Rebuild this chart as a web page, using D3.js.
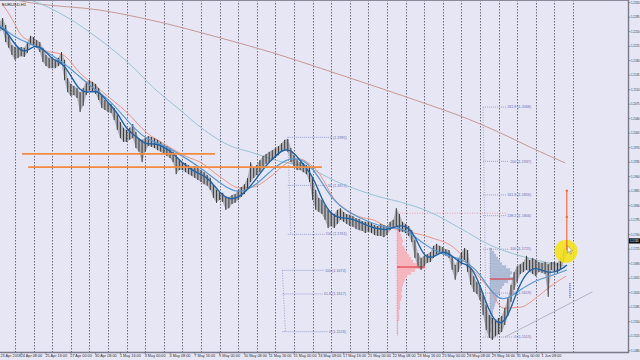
<!DOCTYPE html>
<html><head><meta charset="utf-8">
<script src="https://cdn.jsdelivr.net/npm/d3@7"></script>
<style>html,body{margin:0;padding:0;background:#e6e6f5;overflow:hidden}</style>
</head><body><svg id="c" width="640" height="360"></svg>
<script>
// ---------------- DATA ----------------
const symbolTitle = "EURUSD,H1";
const barStartHour = -20, barStepHours = 4;   // hours since 24 Apr 00:00 (trading hours)
const barHigh = [
 1.2273,1.2283,1.2266,1.2242,1.2218,
 1.2213,1.2211,1.2213,1.2211,1.2225,1.2240,
 1.2237,1.2230,1.2225,1.2211,1.2194,1.2187,
 1.2187,1.2182,1.2187,1.2201,1.2182,1.2138,
 1.2124,1.2119,1.2114,1.2104,1.2114,1.2129,
 1.2133,1.2129,1.2124,1.2114,1.2095,1.2085,
 1.2080,1.2075,1.2066,1.2049,1.2032,1.2018,
 1.2013,1.2018,1.2027,1.2008,1.1993,1.1989,
 1.1993,1.1998,1.1996,1.1993,1.1989,1.1984,
 1.1977,1.1974,1.1969,1.1960,1.1952,1.1940,
 1.1935,1.1933,1.1928,1.1923,1.1926,1.1921,
 1.1916,1.1911,1.1904,1.1897,1.1880,1.1868,
 1.1863,1.1861,1.1853,1.1851,1.1856,1.1858,
 1.1868,1.1875,1.1882,1.1897,1.1935,1.1921,
 1.1928,1.1940,1.1950,1.1955,1.1960,1.1964,
 1.1969,1.1974,1.1981,1.1989,1.1991,1.1969,
 1.1952,1.1940,1.1935,1.1933,1.1928,1.1921,
 1.1897,1.1868,1.1849,1.1844,1.1832,1.1820,
 1.1815,1.1810,1.1820,1.1824,1.1815,1.1810,
 1.1808,1.1805,1.1800,1.1798,1.1793,1.1791,
 1.1791,1.1788,1.1783,1.1781,1.1786,1.1783,
 1.1781,1.1791,1.1796,1.1824,1.1810,1.1791,
 1.1786,1.1781,1.1771,1.1747,1.1716,1.1704,
 1.1709,1.1713,1.1718,1.1733,1.1738,1.1733,
 1.1730,1.1725,1.1723,1.1709,1.1687,1.1704,
 1.1718,1.1728,1.1723,1.1680,1.1660,1.1646,
 1.1636,1.1614,1.1590,1.1566,1.1559,1.1554,
 1.1559,1.1564,1.1583,1.1607,1.1639,1.1670,
 1.1684,1.1689,1.1694,1.1709,1.1699,1.1704,
 1.1699,1.1694,1.1692,1.1694,1.1689,1.1694,
 1.1694,1.1692,1.1704,1.1723,1.1747];
const barLow = [
 1.2249,1.2254,1.2225,1.2211,1.2194,
 1.2182,1.2187,1.2191,1.2189,1.2199,1.2218,
 1.2216,1.2211,1.2201,1.2177,1.2167,1.2162,
 1.2162,1.2162,1.2167,1.2172,1.2133,1.2104,
 1.2095,1.2097,1.2090,1.2056,1.2071,1.2097,
 1.2109,1.2104,1.2100,1.2085,1.2066,1.2061,
 1.2056,1.2054,1.2037,1.2013,1.1993,1.1984,
 1.1984,1.1989,1.1993,1.1969,1.1960,1.1935,
 1.1960,1.1974,1.1972,1.1969,1.1964,1.1960,
 1.1955,1.1950,1.1945,1.1935,1.1906,1.1916,
 1.1916,1.1911,1.1906,1.1902,1.1897,1.1892,
 1.1887,1.1882,1.1878,1.1868,1.1849,1.1837,
 1.1844,1.1839,1.1820,1.1824,1.1834,1.1837,
 1.1844,1.1851,1.1858,1.1868,1.1887,1.1897,
 1.1904,1.1911,1.1921,1.1931,1.1935,1.1940,
 1.1945,1.1952,1.1960,1.1964,1.1960,1.1935,
 1.1926,1.1916,1.1916,1.1911,1.1906,1.1887,
 1.1844,1.1820,1.1815,1.1810,1.1796,1.1776,
 1.1781,1.1776,1.1786,1.1796,1.1791,1.1786,
 1.1781,1.1779,1.1774,1.1771,1.1769,1.1764,
 1.1767,1.1764,1.1759,1.1757,1.1757,1.1754,
 1.1759,1.1771,1.1776,1.1781,1.1767,1.1767,
 1.1764,1.1757,1.1742,1.1704,1.1684,1.1675,
 1.1684,1.1692,1.1694,1.1704,1.1713,1.1716,
 1.1713,1.1709,1.1704,1.1675,1.1651,1.1670,
 1.1689,1.1699,1.1670,1.1639,1.1622,1.1617,
 1.1602,1.1566,1.1530,1.1511,1.1506,1.1515,
 1.1520,1.1525,1.1542,1.1564,1.1598,1.1627,
 1.1646,1.1665,1.1670,1.1675,1.1670,1.1665,
 1.1660,1.1670,1.1668,1.1665,1.1610,1.1675,
 1.1670,1.1668,1.1675,1.1694,1.1713];

// moving averages (hour, price)
const ma1Hours = [-20,-12,0,12,24,36,48,60,72,84,96,108,120,132,144,156,168,180,192,204,216,228,240,252,264,276,288,300,312,324,336,348,360,372,384,396,408,420,432,444,456,468,480,492,504,516,528,540,552,564,576,588,600,612,624,636,648,660,672,684,696,708,712];
const ma1Values = [1.2261,1.2254,1.2218,1.2196,1.2218,1.2211,1.2182,1.2177,1.2145,1.2104,1.2104,1.2109,1.2078,1.2056,1.2013,1.1998,1.1977,1.1981,1.1972,1.1957,1.1933,1.1916,1.1906,1.1892,1.1861,1.1844,1.1849,1.1868,1.1897,1.1928,1.1950,1.1969,1.1960,1.1928,1.1904,1.1844,1.1808,1.1800,1.1800,1.1791,1.1781,1.1774,1.1771,1.1781,1.1783,1.1759,1.1704,1.1704,1.1723,1.1709,1.1689,1.1687,1.1639,1.1573,1.1539,1.1559,1.1627,1.1670,1.1682,1.1670,1.1668,1.1680,1.1687];
const ma2Hours = [-20,0,24,48,72,96,120,144,168,192,216,240,264,288,312,336,360,384,408,432,456,480,504,528,552,576,600,624,648,672,696,712];
const ma2Values = [1.2266,1.2235,1.2218,1.2194,1.2162,1.2119,1.2090,1.2037,1.1989,1.1977,1.1950,1.1921,1.1885,1.1856,1.1880,1.1926,1.1952,1.1928,1.1844,1.1812,1.1791,1.1776,1.1776,1.1735,1.1711,1.1704,1.1670,1.1590,1.1622,1.1651,1.1663,1.1675];
const ma3Hours = [-17,-3,6,23,36,62,84,110,145,170,191,222,239,265,290,307,329,351,368,377,394,410,428,445,462,480,497,535,570,591,613,630,652,674,690,711];
const ma3Values = [1.2319,1.2278,1.2247,1.2223,1.2206,1.2194,1.2150,1.2109,1.2054,1.2006,1.1981,1.1948,1.1935,1.1899,1.1873,1.1875,1.1899,1.1933,1.1943,1.1935,1.1904,1.1851,1.1820,1.1803,1.1796,1.1779,1.1771,1.1754,1.1723,1.1675,1.1627,1.1583,1.1585,1.1610,1.1634,1.1660];
const ma4Hours = [0,19,67,110,152,178,213,239,281,303,351,368,419,471,497,535,574,613,652,684,711];
const ma4Values = [1.2336,1.2327,1.2285,1.2230,1.2165,1.2116,1.2061,1.2020,1.1972,1.1960,1.1933,1.1928,1.1885,1.1851,1.1839,1.1815,1.1776,1.1735,1.1709,1.1694,1.1684];
const ma5Hours = [-6,23,110,187,261,333,394,471,535,574,626,664,710];
const ma5Values = [1.2329,1.2319,1.2302,1.2273,1.2237,1.2199,1.2162,1.2114,1.2073,1.2047,1.2006,1.1972,1.1933];

// axis
const priceTicks = [1.2320,1.2285,1.2250,1.2215,1.2180,1.2145,1.2110,1.2075,1.2040,1.2005,1.1970,1.1935,1.1900,1.1865,1.1830,1.1795,1.1760,1.1725,1.1690,1.1655,1.1620,1.1585,1.1550,1.1515,1.1480];
const dateLabels = ["23 Apr 2018","24 Apr 08:00","25 Apr 16:00","27 Apr 00:00","30 Apr 08:00","1 May 16:00","3 May 00:00","4 May 08:00","7 May 16:00","9 May 00:00","10 May 08:00","11 May 16:00","15 May 00:00","16 May 08:00","17 May 16:00","21 May 00:00","22 May 08:00","23 May 16:00","25 May 00:00","28 May 08:00","29 May 16:00","31 May 00:00","1 Jun 08:00"];
const dateLabelHours = [-24,8,40,72,104,136,168,200,232,264,296,328,360,392,424,456,488,520,552,584,616,648,680];
const daySeparatorHours = [0,24,48,72,96,120,144,168,192,216,240,264,288,312,336,360,384,408,432,456,480,504,528,552,576,600,624,648,672,696,720];
const bidPrice = 1.1745;

// horizontal levels [startHour, endHour, price]
const hLevelStart = [9, 17];
const hLevelEnd = [258, 396];
const hLevelPrice = [1.1955, 1.1923];

// fibonacci objects
const fib1Levels = ["0","50","100"], fib1Prices = [1.1995,1.1879,1.1761], fib1Span = [352, 428];
const fib2Levels = ["100","61.8","0"], fib2Prices = [1.1674,1.1617,1.1526], fib2Span = [345, 427];
const fib3Levels = ["261.8","200","161.8","138.2","100","50","0"], fib3Prices = [1.2068,1.1937,1.1856,1.1806,1.1725,1.1619,1.1513], fib3Span = [604, 666];

// volume profiles
const vp1Top = 1.1783, vp1Bin = 0.0007, vp1Hour = 493;
const vp1Volumes = [1,2,3,4,5,6,5,7,8,10,12,14,16,20,28,18,14,10,8,7,6,5,5,4,5,4,3,3,3,2,2,2,2,1,1,1,1,1];
const vp1Poc = 1.1682, vp1PocEnd = 529;
const vp2Top = 1.1728, vp2Bin = 0.0007, vp2Hour = 613;
const vp2Volumes = [2,4,6,8,10,12,16,20,22,20,24,18,14,12,10,9,8,7,6,5,4,3,3,2,2,2,1,1,1];
const vp2Poc = 1.1653, vp2PocEnd = 643;

// ---------------- DRAW ----------------
const svg = d3.select("#c");
const plotR = 628, plotB = 352;
const FONT = "Liberation Sans, Arial, sans-serif";
const x = d3.scaleLinear().domain([0, 720]).range([15, 573]);
const y = d3.scaleLinear().domain([1.2320, 1.1480]).range([2.7, 350.7]);
const volW = d3.scaleLinear().domain([0, 28]).range([0, 28]);

svg.append("rect").attr("width",640).attr("height",360).attr("fill","#e6e6f5");
svg.append("defs").append("clipPath").attr("id","clip").append("rect").attr("width",plotR).attr("height",plotB);
const g = svg.append("g").attr("clip-path","url(#clip)");

// day separators
g.selectAll(".sep").data(daySeparatorHours).enter().append("line")
 .attr("x1",d=>Math.round(x(d))+0.5).attr("x2",d=>Math.round(x(d))+0.5).attr("y1",0).attr("y2",plotB)
 .attr("stroke","#5e5e72").attr("stroke-width",0.9).attr("stroke-dasharray","1.5,1.5");

// volume profiles
function profile(top, bin, hour, vols, fill, poc, pocEnd, edge){
  g.selectAll(null).data(vols).enter().append("rect")
   .attr("x", x(hour)).attr("y",(d,i)=>y(top - bin*i))
   .attr("width", d=>volW(d)).attr("height", y(top-bin)-y(top)+0.3)
   .attr("fill", fill);
  g.append("line").attr("x1",x(hour)).attr("x2",x(hour)).attr("y1",y(top)).attr("y2",y(top-bin*vols.length))
   .attr("stroke",edge).attr("stroke-width",0.8).attr("stroke-dasharray","1,1.5");
  g.append("line").attr("x1",x(hour)).attr("x2",x(pocEnd)).attr("y1",y(poc)).attr("y2",y(poc))
   .attr("stroke","#e0404a").attr("stroke-width",1.2);
}
profile(vp1Top, vp1Bin, vp1Hour, vp1Volumes, "#f6b4bc", vp1Poc, vp1PocEnd, "#e07a8a");
profile(vp2Top, vp2Bin, vp2Hour, vp2Volumes, "#aebbd6", vp2Poc, vp2PocEnd, "#7a88a8");

// pink dotted value-area line
g.append("line").attr("x1",x(493)).attr("x2",x(635)).attr("y1",y(1.1812)).attr("y2",y(1.1812))
 .attr("stroke","#e6909a").attr("stroke-width",0.8).attr("stroke-dasharray","1,1.5");

// fib objects
function fib(levels, prices, span){
  const grp = g.append("g");
  levels.forEach((lv,i)=>{
    const t = grp.append("text").attr("x",x(span[1])).attr("y",y(prices[i])+1.2)
      .attr("text-anchor","end").attr("font-family",FONT)
      .attr("font-size",3.7).attr("fill","#6a70b4").text(`${lv} (${prices[i].toFixed(4)})`);
    const tw = t.node().getComputedTextLength();
    grp.append("line").attr("x1",x(span[0])).attr("x2",x(span[1])-tw-1)
      .attr("y1",y(prices[i])).attr("y2",y(prices[i]))
      .attr("stroke","#8a90c4").attr("stroke-width",0.8).attr("stroke-dasharray","1,1");
  });
  grp.append("line").attr("x1",x(span[0])).attr("x2",x(span[0])+3)
    .attr("y1",y(d3.max(prices))).attr("y2",y(d3.min(prices)))
    .attr("stroke","#8a90c4").attr("stroke-width",0.8).attr("stroke-dasharray","1,1.5");
}
fib(fib1Levels, fib1Prices, fib1Span);
fib(fib2Levels, fib2Prices, fib2Span);
fib(fib3Levels, fib3Prices, fib3Span);

// slow MAs
function maLine(hours, vals, color, w, curve){
  const pts = hours.map((h,i)=>[x(h), y(vals[i])]);
  g.append("path").attr("d", d3.line().curve(curve||d3.curveMonotoneX)(pts))
   .attr("fill","none").attr("stroke",color).attr("stroke-width",w);
}
maLine(ma5Hours, ma5Values, "#c49a96", 1);
maLine(ma4Hours, ma4Values, "#98c4d6", 1);
maLine(ma3Hours, ma3Values, "#f08a78", 0.9);

// price bars
const bars = barHigh.map((h,i)=>({t: barStartHour + barStepHours*i, hi:h, lo:barLow[i]}));
g.append("path").attr("d", d3.area().x(d=>x(d.t)).y0(d=>y(d.lo)).y1(d=>y(d.hi)).curve(d3.curveLinear)(bars))
 .attr("fill","#707070").attr("opacity",0.45);
g.selectAll(".bar").data(bars).enter().append("line")
 .attr("x1",d=>x(d.t)).attr("x2",d=>x(d.t)).attr("y1",d=>y(d.hi)).attr("y2",d=>y(d.lo))
 .attr("stroke","#3a3a3a").attr("stroke-width",1.0);

// fast MAs
maLine(ma2Hours, ma2Values, "#5b9ad4", 1.2, d3.curveBasis);
maLine(ma1Hours, ma1Values, "#2063aa", 1.4, d3.curveBasis);

// horizontal S/R levels
g.selectAll(".lvl").data(hLevelPrice).enter().append("line")
 .attr("x1",(d,i)=>x(hLevelStart[i])).attr("x2",(d,i)=>x(hLevelEnd[i]))
 .attr("y1",d=>y(d)).attr("y2",d=>y(d)).attr("stroke","#f28b40").attr("stroke-width",1.6);

// trend line
g.append("line").attr("x1",x(632)).attr("y1",y(1.1513)).attr("x2",x(745)).attr("y2",y(1.1622))
 .attr("stroke","#b4b4cc").attr("stroke-width",1);

// blue dotted marker
g.append("line").attr("x1",x(716)).attr("x2",x(716)).attr("y1",y(1.1643)).attr("y2",y(1.1607))
 .attr("stroke","#4a64c0").attr("stroke-width",1.4).attr("stroke-dasharray","1,1");

// highlight circle, orange vertical
g.append("circle").attr("cx",x(711)).attr("cy",y(1.1720)).attr("r",11.5).attr("fill","#f2e21a").attr("opacity",0.9);
g.append("line").attr("x1",x(712)).attr("x2",x(712)).attr("y1",y(1.1866)).attr("y2",y(1.1723))
 .attr("stroke","#f0703a").attr("stroke-width",1.2);
[1.1866, 1.1803].forEach(p=>g.append("circle").attr("cx",x(712)).attr("cy",y(p)).attr("r",1.2).attr("fill","#f0703a"));
// cursor
const cx0 = x(713), cy0 = y(1.1733);
g.append("path").attr("d",`M${cx0},${cy0} l0,7 l1.6,-1.6 l1.3,2.8 l1,-0.5 l-1.3,-2.7 l2.3,0 z`)
 .attr("fill","#ffffff").attr("stroke","#555").attr("stroke-width",0.4);

// title
svg.append("text").attr("x",2).attr("y",5.5).attr("font-family",FONT)
 .attr("font-size",4.2).attr("fill","#222").text(symbolTitle);

// frame
svg.append("line").attr("x1",0).attr("x2",plotR).attr("y1",0.5).attr("y2",0.5).attr("stroke","#8a8a9a").attr("stroke-width",1);
svg.append("line").attr("x1",plotR+0.5).attr("x2",plotR+0.5).attr("y1",0).attr("y2",plotB+1).attr("stroke","#7a7a8a").attr("stroke-width",1.4);
svg.append("line").attr("x1",0).attr("x2",plotR+1).attr("y1",plotB+0.5).attr("y2",plotB+0.5).attr("stroke","#7a7a8a").attr("stroke-width",1.4);

// price axis
const pa = svg.append("g");
priceTicks.forEach(p=>{
  pa.append("line").attr("x1",plotR).attr("x2",plotR+2.5).attr("y1",y(p)).attr("y2",y(p)).attr("stroke","#666").attr("stroke-width",0.6);
  pa.append("text").attr("x",plotR+3).attr("y",y(p)+1.2).attr("font-family",FONT)
    .attr("font-size",3.3).attr("textLength",8.6).attr("lengthAdjust","spacingAndGlyphs")
    .attr("fill","#333").text(p.toFixed(4));
});
pa.append("rect").attr("x",plotR+1).attr("y",y(bidPrice)-2.6).attr("width",11).attr("height",5.2).attr("fill","#111");
pa.append("text").attr("x",plotR+2).attr("y",y(bidPrice)+1.2).attr("font-family",FONT)
  .attr("font-size",3.3).attr("textLength",8.6).attr("lengthAdjust","spacingAndGlyphs")
  .attr("fill","#fff").text(bidPrice.toFixed(4));

// time axis
const ta = svg.append("g");
dateLabelHours.forEach((h,i)=>{
  ta.append("line").attr("x1",x(h)).attr("x2",x(h)).attr("y1",plotB).attr("y2",plotB+2.5).attr("stroke","#666").attr("stroke-width",0.6);
  ta.append("text").attr("x",Math.max(0.5, x(h)-0.5)).attr("y",plotB+5.3).attr("font-family",FONT)
    .attr("font-size",3.8).attr("fill","#333").text(dateLabels[i]);
});
</script></body></html>
